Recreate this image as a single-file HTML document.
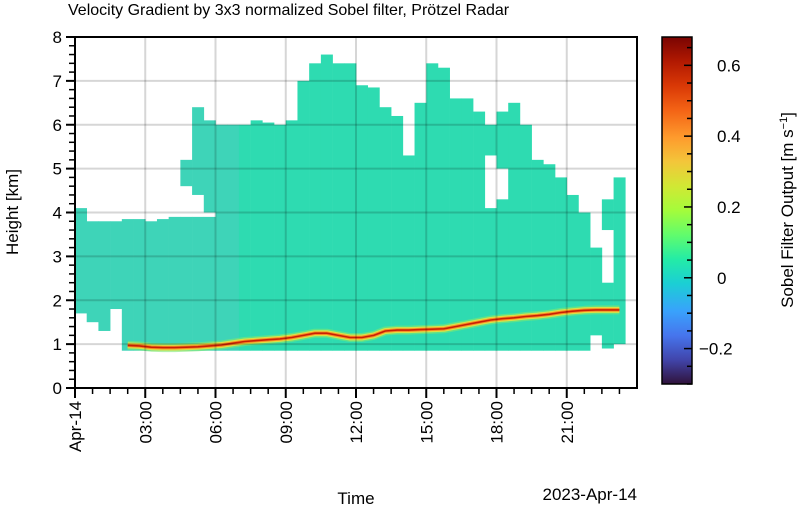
<!DOCTYPE html>
<html><head><meta charset="utf-8"><style>
html,body{margin:0;padding:0;background:#fff;}
svg{display:block;font-family:"Liberation Sans",sans-serif;}
</style></head><body>
<svg id="chart" width="797" height="508" viewBox="0 0 797 508">
<defs>
<linearGradient id="turbo" x1="0" y1="1" x2="0" y2="0">
<stop offset="0" stop-color="#30123b"/><stop offset="0.07" stop-color="#4145ab"/><stop offset="0.14" stop-color="#4675ed"/><stop offset="0.21" stop-color="#39a2fc"/><stop offset="0.29" stop-color="#1bcfd4"/><stop offset="0.36" stop-color="#24eca6"/><stop offset="0.43" stop-color="#61fc6c"/><stop offset="0.5" stop-color="#a4fc3b"/><stop offset="0.57" stop-color="#d1e834"/><stop offset="0.64" stop-color="#f3c63a"/><stop offset="0.71" stop-color="#fe9b2d"/><stop offset="0.79" stop-color="#f36315"/><stop offset="0.86" stop-color="#d93806"/><stop offset="0.93" stop-color="#b11901"/><stop offset="1" stop-color="#7a0402"/>
</linearGradient>
<clipPath id="plotclip"><rect x="75" y="37" width="562" height="351"/></clipPath>
</defs>
<text x="68" y="15" font-size="16" fill="#000">Velocity Gradient by 3x3 normalized Sobel filter, Prötzel Radar</text>
<g id="data" clip-path="url(#plotclip)"></g>
<g id="grid"></g>
<rect x="75" y="37" width="562" height="351" fill="none" stroke="#000" stroke-width="2"/>
<g id="axes"></g>
<text x="0" y="0" font-size="17" transform="translate(18,212) rotate(-90)" text-anchor="middle">Height [km]</text>
<text x="356" y="504" font-size="17" text-anchor="middle">Time</text>
<text x="637" y="500" font-size="17" text-anchor="end">2023-Apr-14</text>
<rect x="662" y="37" width="30" height="347" fill="url(#turbo)" stroke="#000" stroke-width="1.5"/>
<g id="cbaxis"></g>
<text font-size="17" transform="translate(793,210) rotate(-90)" text-anchor="middle">Sobel Filter Output [m s<tspan dy="-6" font-size="11">−1</tspan><tspan dy="6">]</tspan></text>
</svg>
<script>
// data (half-hour columns)
const colHours = [0,0.5,1,1.5,2,2.5,3,3.5,4,4.5,5,5.5,6,6.5,7,7.5,8,8.5,9,9.5,10,10.5,11,11.5,12,12.5,13,13.5,14,14.5,15,15.5,16,16.5,17,17.5,18,18.5,19,19.5,20,20.5,21,21.5,22,22.5,23,23.5];
const echoTop = [4.1,3.8,3.8,3.8,3.85,3.85,3.8,3.85,3.9,5.2,6.4,6.1,6.0,6.0,6.0,6.1,6.05,6.0,6.1,7.0,7.4,7.6,7.4,7.4,6.9,6.85,6.4,6.2,5.3,6.5,7.4,7.3,6.6,6.6,6.3,6.0,6.3,6.5,6.0,5.2,5.1,4.8,4.4,4.0,3.2,4.3,4.8,0];
const echoBottom = [1.7,1.5,1.3,1.8,0.85,0.85,0.85,0.85,0.85,0.85,0.85,0.85,0.85,0.85,0.85,0.85,0.85,0.85,0.85,0.85,0.85,0.85,0.85,0.85,0.85,0.85,0.85,0.85,0.85,0.85,0.85,0.85,0.85,0.85,0.85,0.85,0.85,0.85,0.85,0.85,0.85,0.85,0.85,0.85,1.2,0.9,1.0,0];
const gapLow = [0,0,0,0,0,0,0,0,0,3.9,3.9,3.9,0,0,0,0,0,0,0,0,0,0,0,0,0,0,0,0,0,0,0,0,0,0,0,4.1,4.3,0,0,0,0,0,0,0,0,2.4,0,0];
const gapHigh = [0,0,0,0,0,0,0,0,0,4.6,4.4,4.0,0,0,0,0,0,0,0,0,0,0,0,0,0,0,0,0,0,0,0,0,0,0,0,5.3,5.0,0,0,0,0,0,0,0,0,3.6,0,0];
const bandHeight = [0,0,0,0,0.97,0.96,0.93,0.92,0.92,0.93,0.94,0.96,0.98,1.02,1.06,1.08,1.1,1.12,1.15,1.2,1.25,1.25,1.2,1.15,1.15,1.2,1.3,1.32,1.32,1.33,1.34,1.35,1.4,1.45,1.5,1.55,1.58,1.6,1.63,1.65,1.68,1.72,1.75,1.77,1.78,1.78,1.78,0];
const yTicks = [0,1,2,3,4,5,6,7,8];
const xTickHours = [0,3,6,9,12,15,18,21];
const xTickLabels = ["Apr-14","03:00","06:00","09:00","12:00","15:00","18:00","21:00"];
const cbTicks = [-0.2,0,0.2,0.4,0.6];
const cbTickLabels = ["−0.2","0","0.2","0.4","0.6"];

const NS="http://www.w3.org/2000/svg";
const X0=75,X1=637,Y0=388,Y1=37;
const xs=h=>X0+(X1-X0)*h/24;
const ys=k=>Y0-(Y0-Y1)*k/8;
const cbY=v=>384-(v+0.3)/(0.98)*347;
function mk(tag,attrs,parent){const e=document.createElementNS(NS,tag);for(const k in attrs)e.setAttribute(k,attrs[k]);parent.appendChild(e);return e;}
const gData=document.getElementById('data');
const step=0.5;
colHours.forEach((h,i)=>{
  if(echoTop[i]<=0)return;
  const x=xs(h),w=xs(h+step)-x+0.3;
  let segs=[[echoBottom[i],echoTop[i]]];
  if(gapHigh[i]>gapLow[i]&&gapLow[i]>0)segs=[[echoBottom[i],gapLow[i]],[gapHigh[i],echoTop[i]]];
  segs.forEach(s=>{
    const r=mk('rect',{x:x,y:ys(s[1]),width:w,height:ys(s[0])-ys(s[1]),fill:h<7?'#3ed4b8':'#2edbb1'},gData);
    
    
  });
});
// bright band
function bandPath(){let d='';colHours.forEach((h,i)=>{if(bandHeight[i]<=0)return;const x=xs(h+step/2);d+=(d?'L':'M')+x.toFixed(1)+','+ys(bandHeight[i]).toFixed(1);});return d;}
const bd=bandPath();
[[9,'#7ee870',0.6],[6,'#e8e040',0.9],[3.5,'#fb8a22',1],[1.6,'#c82005',1]].forEach(s=>{
  const p=mk('path',{d:bd,fill:'none',stroke:s[1],'stroke-width':s[0],'stroke-linejoin':'round','stroke-linecap':'butt',opacity:s[2]},gData);
  
  
});
// grid
const gGrid=document.getElementById('grid');
yTicks.slice(1,-1).forEach(v=>{const l=mk('line',{x1:X0,x2:X1,y1:ys(v),y2:ys(v),stroke:'rgba(0,0,0,0.16)','stroke-width':2},gGrid);});
xTickHours.slice(1).forEach(h=>{const l=mk('line',{x1:xs(h),x2:xs(h),y1:Y1,y2:Y0,stroke:'rgba(0,0,0,0.16)','stroke-width':2},gGrid);});
// axes
const gA=document.getElementById('axes');
for(let v=0;v<=8.001;v+=0.2){const major=Math.abs(v-Math.round(v))<1e-6;const l=mk('line',{x1:X0-(major?9:6),x2:X0,y1:ys(v),y2:ys(v),stroke:'#000','stroke-width':major?2:1.5},gA);}
yTicks.forEach(v=>{const t=mk('text',{x:X0-13,y:ys(v)+6,'font-size':17,'text-anchor':'end'},gA);t.textContent=v;});
for(let h=0;h<24;h+=0.75){const major=Math.abs(h/3-Math.round(h/3))<1e-6;const l=mk('line',{x1:xs(h),x2:xs(h),y1:Y0,y2:Y0+(major?10:6),stroke:'#000','stroke-width':major?2:1.5},gA);}
xTickHours.forEach((h,i)=>{const t=mk('text',{x:0,y:0,'font-size':17,'text-anchor':'end',transform:`translate(${xs(h)+6},${Y0+13}) rotate(-90)`},gA);t.textContent=xTickLabels[i];});
// colorbar axis
const gC=document.getElementById('cbaxis');
for(let v=-0.3;v<=0.68;v+=0.05){const major=Math.abs(v*5-Math.round(v*5))<1e-6;const l=mk('line',{x1:692,x2:692-(major?8:5),y1:cbY(v),y2:cbY(v),stroke:'#000','stroke-width':1.5},gC);}
cbTicks.forEach((v,i)=>{const t=mk('text',{x:cbTickLabels[i].startsWith('−')?699:717,y:cbY(v)+6,'font-size':17},gC);t.textContent=cbTickLabels[i];});
</script>
</body></html>
